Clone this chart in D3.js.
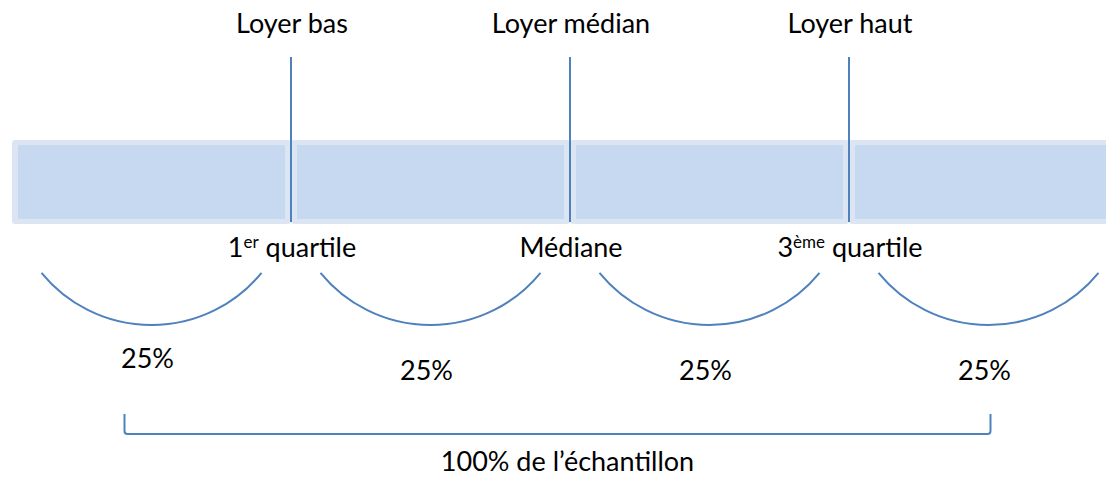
<!DOCTYPE html>
<meta charset="utf-8">
<style>
    body { margin: 0; background: #fff; }
    svg { display: block; }
    text { font-family: Lato, "Open Sans", sans-serif; font-size: 27px; fill: #000; }
</style>
<svg width="1106" height="477"></svg>
<script src="https://d3js.org/d3.v7.min.js"></script>
<script>
    // quartile split of the sample
    var segments = ["Q1", "Q2", "Q3", "Q4"];
    var shares = [25, 25, 25, 25];
    var topLabels = ["Loyer bas", "Loyer médian", "Loyer haut"];
    var bottomLabels = [["1", "er", " quartile"], ["Médiane", "", ""], ["3", "ème", " quartile"]];
    var totalLabel = "100% de l\u2019échantillon";

    var svg = d3.select("svg"),
        blue = "#4f81bd";

    var cum = [0];
    shares.forEach(function(s, i) { cum.push(cum[i] + s); });

    var x = d3.scaleLinear().domain([0, 100]).range([12, 1128]);
    var barTop = 140, barBottom = 224;

    // bar segments
    var seg = svg.selectAll(".seg")
        .data(segments)
        .enter().append("g")
        .attr("class", "seg");
    seg.append("rect")
        .attr("x", function(d, i) { return x(cum[i]); })
        .attr("y", barTop)
        .attr("width", function(d, i) { return x(cum[i + 1]) - x(cum[i]); })
        .attr("height", barBottom - barTop)
        .attr("rx", 3)
        .attr("fill", "#dce6f2");
    seg.append("rect")
        .attr("x", function(d, i) { return x(cum[i]) + 6; })
        .attr("y", barTop + 5)
        .attr("width", function(d, i) { return x(cum[i + 1]) - x(cum[i]) - 12; })
        .attr("height", barBottom - barTop - 10)
        .attr("rx", 1)
        .attr("fill", "#c6d9f0");

    // boundaries
    var bounds = cum.slice(1, -1);
    svg.selectAll(".bound")
        .data(bounds)
        .enter().append("line")
        .attr("x1", function(d) { return x(d); })
        .attr("x2", function(d) { return x(d); })
        .attr("y1", 57)
        .attr("y2", 222)
        .attr("stroke", blue)
        .attr("stroke-width", 2);

    svg.selectAll(".top")
        .data(topLabels)
        .enter().append("text")
        .attr("x", function(d, i) { return x(bounds[i]) + 1; })
        .attr("y", 33)
        .attr("text-anchor", "middle")
        .text(function(d) { return d; });

    var bl = svg.selectAll(".bot")
        .data(bottomLabels)
        .enter().append("text")
        .attr("x", function(d, i) { return x(bounds[i]) + 1; })
        .attr("y", 257)
        .attr("text-anchor", "middle");
    bl.append("tspan").text(function(d) { return d[0]; });
    bl.append("tspan")
        .attr("dy", -9)
        .style("font-size", "17px")
        .text(function(d) { return d[1]; });
    bl.append("tspan")
        .attr("dy", function(d) { return d[1] ? 9 : 0; })
        .text(function(d) { return d[2]; });

    // arcs under each segment
    var r = 142, halfAng = Math.asin(110 / r);
    function mid(i) { return x((cum[i] + cum[i + 1]) / 2); }
    svg.selectAll(".arc")
        .data(segments)
        .enter().append("path")
        .attr("d", function(d, i) {
            var p = d3.path(), cx = mid(i), cy = 325 - r;
            p.moveTo(cx + r * Math.cos(Math.PI / 2 - halfAng), cy + r * Math.sin(Math.PI / 2 - halfAng));
            p.arc(cx, cy, r, Math.PI / 2 - halfAng, Math.PI / 2 + halfAng);
            return p.toString();
        })
        .attr("fill", "none")
        .attr("stroke", blue)
        .attr("stroke-width", 2);

    svg.selectAll(".pct")
        .data(shares)
        .enter().append("text")
        .attr("x", function(d, i) { return mid(i) - 4; })
        .attr("y", function(d, i) { return i === 0 ? 368 : 380; })
        .attr("text-anchor", "middle")
        .text(function(d) { return d + "%"; });

    // bracket for the whole sample
    var bx0 = mid(0) - 27, bx1 = mid(segments.length - 1) + 2, by = 434;
    svg.append("path")
        .attr("d", "M" + bx0 + "," + (by - 20) + "V" + (by - 3) + "Q" + bx0 + "," + by + " " + (bx0 + 3) + "," + by +
            "H" + (bx1 - 3) + "Q" + bx1 + "," + by + " " + bx1 + "," + (by - 3) + "V" + (by - 20))
        .attr("fill", "none")
        .attr("stroke", blue)
        .attr("stroke-width", 2);

    svg.append("text")
        .attr("x", (bx0 + bx1) / 2 + 10)
        .attr("y", 471)
        .attr("text-anchor", "middle")
        .text(totalLabel);
</script>
